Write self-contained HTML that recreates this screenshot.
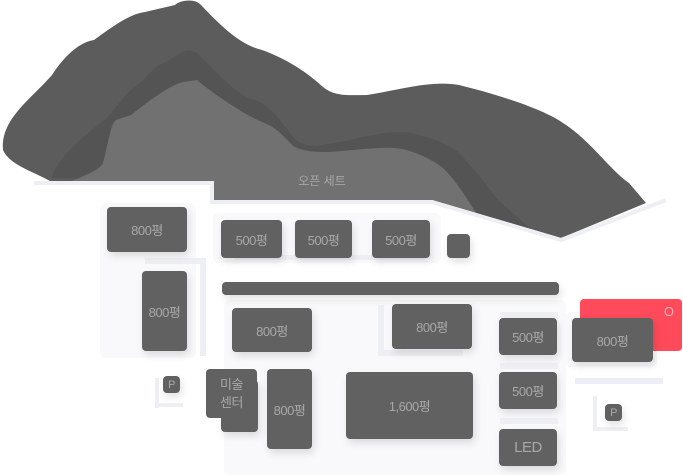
<!DOCTYPE html>
<html><head><meta charset="utf-8"><style>
body{margin:0;width:683px;height:475px;background:#fff;position:relative;overflow:hidden;font-family:"Liberation Sans","Noto Sans CJK KR",sans-serif}
.a{position:absolute}
.b{position:absolute;background:#616161;border-radius:4px;color:#a8a8a8;font-size:13px;display:flex;align-items:center;justify-content:center;text-align:center;box-shadow:2px 4px 8px rgba(0,0,0,.12);letter-spacing:-0.5px}
.bg{position:absolute;background:#f9f9fb;border-radius:6px}
.ln{position:absolute;background:#eeeff4}
</style></head><body>
<svg class="a" style="left:0;top:0" width="683" height="475">
<path d="M50,181 C30,170 10,165 3,150 C0,120 30,100 52,75 C65,55 80,42 94,40 C115,25 130,14 145,12 L175,5 C180,0 195,-2 201,5 C220,25 240,45 262,50 C290,60 310,75 323,87 C335,97 350,95 367,95 C400,90 430,80 459,85 C500,95 545,110 563,123 C590,140 610,170 629,183 L646,203 L561,238 L432,200 L214,200 L214,181 Z" fill="#5c5c5c"/>
<path d="M52,178 C55,160 85,135 98,125 C110,118 120,100 131,90 C145,80 155,65 164,63 C175,58 185,45 197,53 C215,70 235,95 255,100 C280,110 290,140 301,143 C315,150 330,142 341,142 C370,135 400,128 419,135 C440,140 460,150 465,160 C480,175 490,190 498,200 C515,215 530,228 537,235 L432,200 L214,200 L214,181 Z" fill="#545454"/>
<path d="M72,181 C85,175 100,170 103,163 C108,145 110,125 116,120 L131,115 C150,100 170,85 183,82 L197,80 C215,95 245,115 262,122 C280,128 290,145 295,147 C305,152 318,152 328,152 C360,150 390,145 406,150 C425,155 440,165 445,170 C460,185 470,205 478,215 L485,228 L432,200 L214,200 L214,181 Z" fill="#717171"/>
<path d="M0,181 L214,181 L214,200 L432,200 L561,238 L666,198 L683,198 L683,475 L0,475 Z" fill="#fff"/>
<path d="M34,183 L212,183 L212,202 L432,202 L561,240 L666,200" fill="none" stroke="#eeeff4" stroke-width="4"/>
<text x="322" y="185" fill="#a8a8a8" font-size="12" text-anchor="middle" font-family="Liberation Sans, Noto Sans CJK KR, sans-serif">오픈 세트</text>
</svg>
<div class="bg" style="left:100px;top:203px;width:96px;height:155px"></div>
<div class="bg" style="left:213px;top:213px;width:228px;height:50px"></div>
<div class="bg" style="left:224px;top:300px;width:342px;height:175px"></div>
<div class="bg" style="left:565px;top:312px;width:92px;height:55px"></div>
<div class="ln" style="left:145px;top:258px;width:60px;height:6px"></div>
<div class="ln" style="left:200px;top:258px;width:6px;height:98px"></div>
<div class="ln" style="left:235px;top:255px;width:190px;height:5px"></div>
<div class="ln" style="left:378px;top:305px;width:6px;height:50px"></div>
<div class="ln" style="left:378px;top:350px;width:85px;height:6px"></div>
<div class="ln" style="left:500px;top:312px;width:58px;height:6px"></div>
<div class="ln" style="left:500px;top:363px;width:58px;height:6px"></div>
<div class="ln" style="left:500px;top:418px;width:58px;height:6px"></div>
<div class="ln" style="left:575px;top:378px;width:88px;height:6px"></div>
<div class="ln" style="left:155px;top:378px;width:4px;height:30px"></div>
<div class="ln" style="left:155px;top:403px;width:28px;height:4px"></div>
<div class="ln" style="left:593px;top:396px;width:4px;height:35px"></div>
<div class="ln" style="left:593px;top:427px;width:35px;height:4px"></div>
<div class="b" style="left:107px;top:207px;width:80px;height:45px">800평</div>
<div class="b" style="left:221px;top:220px;width:61px;height:38px">500평</div>
<div class="b" style="left:295px;top:220px;width:57px;height:38px">500평</div>
<div class="b" style="left:372px;top:220px;width:58px;height:38px">500평</div>
<div class="b" style="left:447px;top:234px;width:23px;height:24px"></div>
<div class="b" style="left:222px;top:282px;width:337px;height:13px;border-radius:4px"></div>
<div class="b" style="left:142px;top:271px;width:45px;height:80px">800평</div>
<div class="b" style="left:232px;top:308px;width:80px;height:44px">800평</div>
<div class="b" style="left:392px;top:304px;width:80px;height:45px">800평</div>
<div class="b" style="left:499px;top:318px;width:58px;height:37px">500평</div>
<div class="b" style="left:499px;top:372px;width:58px;height:37px">500평</div>
<div class="b" style="left:499px;top:429px;width:58px;height:37px;font-size:15px">LED</div>
<div class="a" style="left:580px;top:299px;width:102px;height:52px;background:#fe4a5a;border-radius:4px;color:#ffb0b8;font-size:13px"><span style="position:absolute;right:8px;top:5px">O</span></div>
<div class="b" style="left:572px;top:318px;width:81px;height:44px">800평</div>
<div class="b" style="left:346px;top:372px;width:127px;height:67px">1,600평</div>
<div class="b" style="left:267px;top:369px;width:45px;height:80px">800평</div>
<div class="b" style="left:221px;top:380px;width:37px;height:52px"></div>
<div class="b" style="left:206px;top:369px;width:51px;height:49px;box-shadow:none;line-height:18px">미술<br>센터</div>
<div class="b" style="left:163px;top:376px;width:17px;height:17px;font-size:11px">P</div>
<div class="b" style="left:605px;top:404px;width:17px;height:17px;font-size:11px">P</div>
</body></html>
